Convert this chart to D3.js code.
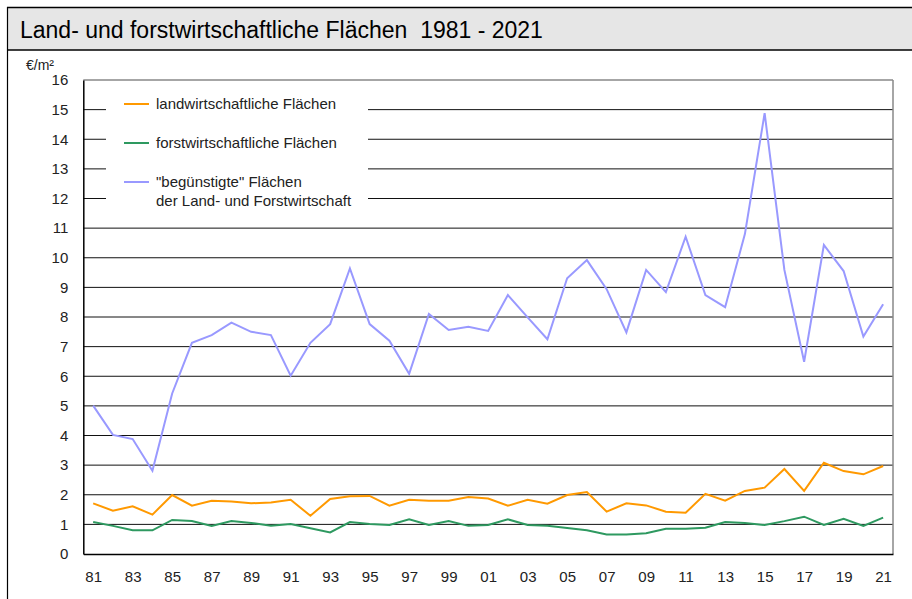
<!DOCTYPE html>
<html><head><meta charset="utf-8">
<script src="https://cdn.jsdelivr.net/npm/d3@7/dist/d3.min.js"></script>
<style>
body{margin:0;background:#fff;}
svg{display:block;font-family:"Liberation Sans",Arial,sans-serif;}
</style></head>
<body>
<svg id="c" width="912" height="599"></svg>
<script>
const years = ["81","82","83","84","85","86","87","88","89","90","91","92","93","94","95","96","97","98","99","00","01","02","03","04","05","06","07","08","09","10","11","12","13","14","15","16","17","18","19","20","21"];
const xTickLabels = ["81","83","85","87","89","91","93","95","97","99","01","03","05","07","09","11","13","15","17","19","21"];
const yTicks = [0,1,2,3,4,5,6,7,8,9,10,11,12,13,14,15,16];
const landw = [1.71,1.46,1.61,1.33,1.99,1.63,1.80,1.77,1.71,1.74,1.83,1.29,1.86,1.95,1.96,1.63,1.83,1.80,1.80,1.92,1.87,1.63,1.83,1.70,1.99,2.09,1.43,1.71,1.64,1.43,1.39,2.03,1.80,2.13,2.24,2.87,2.13,3.08,2.80,2.69,2.97];
const forstw = [1.08,0.95,0.80,0.80,1.15,1.11,0.95,1.11,1.05,0.95,1.01,0.87,0.73,1.08,1.01,0.98,1.17,0.98,1.11,0.95,0.98,1.17,0.98,0.95,0.88,0.80,0.66,0.66,0.70,0.85,0.85,0.89,1.08,1.05,0.98,1.11,1.26,0.98,1.19,0.95,1.23];
const beguenstigt = [5.01,4.02,3.88,2.81,5.42,7.13,7.39,7.81,7.50,7.39,6.02,7.13,7.76,9.64,7.76,7.20,6.08,8.10,7.56,7.67,7.53,8.74,7.99,7.25,9.31,9.92,8.94,7.48,9.59,8.84,10.71,8.74,8.33,10.80,14.88,9.59,6.49,10.43,9.55,7.34,8.43];
const seriesNames = ["landwirtschaftliche Flächen","forstwirtschaftliche Flächen",["\"begünstigte\" Flächen","der Land- und Forstwirtschaft"]];
const seriesColors = ["#FF9900","#2E9960","#9999FF"];
const title = "Land- und forstwirtschaftliche Flächen  1981 - 2021";
const unit = "€/m²";

const svg = d3.select("#c");
const L = 83.3, R = 893, T = 80, B = 554;

// frame + title band
svg.append("rect").attr("x",7).attr("y",7).attr("width",905).attr("height",43).attr("fill","#e6e6e6");
svg.append("line").attr("x1",7).attr("x2",912).attr("y1",7.5).attr("y2",7.5).attr("stroke","#000").attr("stroke-width",1.5);
svg.append("line").attr("x1",7).attr("x2",912).attr("y1",50).attr("y2",50).attr("stroke","#000").attr("stroke-width",1.5);
svg.append("line").attr("x1",7.5).attr("x2",7.5).attr("y1",7).attr("y2",599).attr("stroke","#000").attr("stroke-width",1.2);
svg.append("text").attr("x",20).attr("y",38).attr("font-size",23).attr("fill","#000")
  .style("white-space","pre").attr("xml:space","preserve").text(title);

const x = d3.scalePoint().domain(years).range([L,R]).padding(0.5);
const y = d3.scaleLinear().domain([0,16]).range([B,T]);

// gridlines
svg.append("g").selectAll("line").data(yTicks.filter(d=>d>0&&d<16)).join("line")
  .attr("x1",L).attr("x2",R).attr("y1",d=>y(d)).attr("y2",d=>y(d))
  .attr("stroke","#111").attr("stroke-width",1);

// plot border
svg.append("line").attr("x1",L).attr("x2",R).attr("y1",y(16)).attr("y2",y(16)).attr("stroke","#888").attr("stroke-width",1.5);
svg.append("line").attr("x1",R).attr("x2",R).attr("y1",T).attr("y2",B).attr("stroke","#888").attr("stroke-width",1.5);

// y axis
const yAxis = d3.axisLeft(y).tickValues(yTicks).tickSize(0).tickPadding(15);
const ya = svg.append("g").attr("transform",`translate(${L},0)`).call(yAxis);
ya.select(".domain").attr("stroke","#000").attr("stroke-width",1.5);
ya.selectAll("text").attr("font-size",15).attr("fill","#222").attr("font-family","Liberation Sans, Arial, sans-serif");

// x axis
const xAxis = d3.axisBottom(x).tickValues(xTickLabels).tickSize(0).tickPadding(17);
const xa = svg.append("g").attr("transform",`translate(0,${B})`).call(xAxis);
xa.select(".domain").attr("stroke","#000").attr("stroke-width",1.5);
xa.selectAll("text").attr("font-size",15).attr("fill","#222").attr("font-family","Liberation Sans, Arial, sans-serif");

svg.append("text").attr("x",26).attr("y",70).attr("font-size",14).attr("fill","#222").text(unit);

// legend box (white, interrupts gridlines)
svg.append("rect").attr("x",106).attr("y",88).attr("width",262).attr("height",127).attr("fill","#fff");
const legY = [104,143,182];
seriesNames.forEach((n,i)=>{
  svg.append("line").attr("x1",124).attr("x2",149).attr("y1",legY[i]).attr("y2",legY[i]).attr("stroke",seriesColors[i]).attr("stroke-width",2);
  const lines = Array.isArray(n)?n:[n];
  lines.forEach((t,j)=>{
    svg.append("text").attr("x",156).attr("y",legY[i]+5+j*19).attr("font-size",15).attr("fill","#222").text(t);
  });
});

// series
const line = d3.line().x((d,i)=>x(years[i])).y(d=>y(d));
[landw,forstw,beguenstigt].forEach((s,i)=>{
  svg.append("path").datum(s).attr("d",line).attr("fill","none").attr("stroke",seriesColors[i]).attr("stroke-width",2).attr("stroke-linejoin","miter");
});
</script>
</body></html>
